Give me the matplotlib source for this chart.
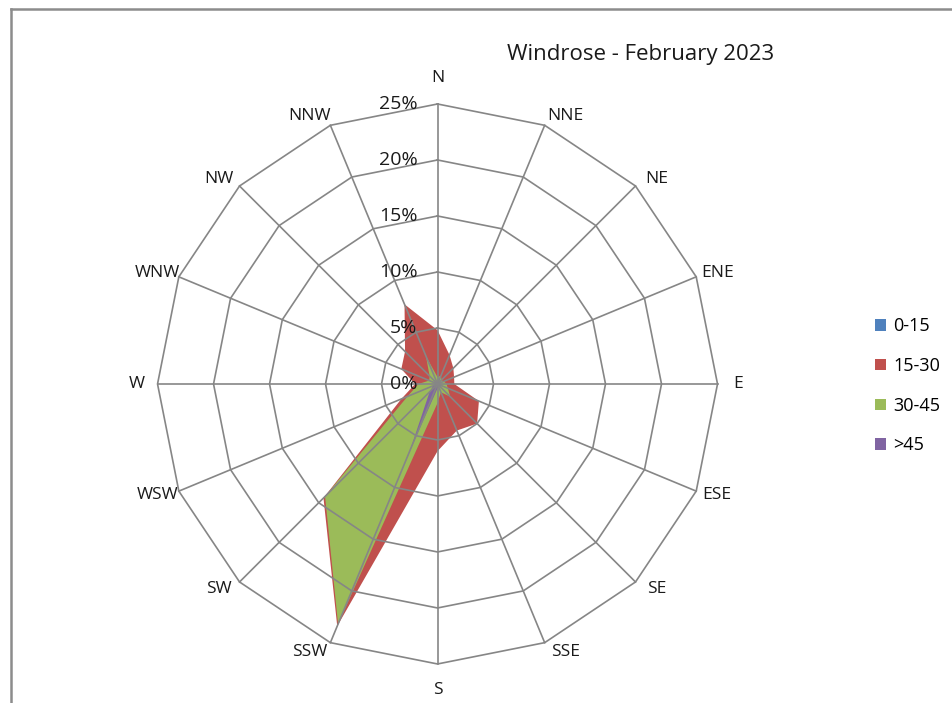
import numpy as np
import matplotlib.pyplot as plt
from matplotlib.patches import Patch
from matplotlib.lines import Line2D

plt.rcParams['font.family'] = ['Open Sans', 'DejaVu Sans']

directions = ['N', 'NNE', 'NE', 'ENE', 'E', 'ESE', 'SE', 'SSE',
              'S', 'SSW', 'SW', 'WSW', 'W', 'WNW', 'NW', 'NNW']
speed_bins = ['0-15', '15-30', '30-45', '>45']

# percentage of time per direction, one list per speed bin
pct_0_15 = [0.2, 0.1, 0.1, 0.1, 0.1, 0.2, 0.2, 0.2, 0.2, 0.3, 0.2, 0.1, 0.1, 0.1, 0.1, 0.2]
pct_15_30 = [4.8, 2.8, 2.0, 1.6, 1.5, 4.0, 5.0, 4.5, 6.0, 23.4, 14.4, 3.5, 2.0, 3.5, 4.1, 7.7]
pct_30_45 = [0.6, 0.8, 0.5, 0.6, 0.8, 1.0, 1.6, 0.8, 1.7, 23.2, 14.2, 2.9, 1.7, 0.8, 1.0, 2.7]
pct_45 = [0.2, 0.2, 0.2, 0.2, 0.2, 0.3, 0.3, 0.3, 0.4, 6.4, 1.0, 0.4, 0.2, 0.2, 0.2, 0.3]

ring_values = [0, 5, 10, 15, 20, 25]
ring_labels = ['0%', '5%', '10%', '15%', '20%', '25%']

colors = ['#4F81BD', '#C0504D', '#9BBB59', '#8064A2']
grid_color = '#868686'

fig = plt.figure(figsize=(9.53, 7.03), dpi=100)
ax = fig.add_axes([0.1653, 0.0555, 0.5876, 0.7966], projection='polar')
ax.set_theta_zero_location('N')
ax.set_theta_direction(-1)

theta = np.linspace(0, 2 * np.pi, len(directions), endpoint=False)
theta_c = np.append(theta, theta[0])

for i, series in enumerate([pct_0_15, pct_15_30, pct_30_45, pct_45]):
    vals = np.append(series, series[0])
    ax.fill(theta_c, vals, color=colors[i], linewidth=0, zorder=2 + i)

# polygon grid like Excel radar
rmax = ring_values[-1]
for r in ring_values[1:]:
    ax.plot(theta_c, [r] * len(theta_c), color=grid_color, lw=1.2, zorder=10, clip_on=False)
for a in theta:
    ax.plot([a, a], [0, rmax], color=grid_color, lw=1.2, zorder=10, clip_on=False)

ax.set_ylim(0, rmax)
ax.grid(False)
ax.spines['polar'].set_visible(False)
ax.set_yticks([])
ax.set_xticks([])

# category labels placed next to the outer vertices, Excel style
for a, lab in zip(theta, directions):
    s, c = np.sin(a), np.cos(a)
    if abs(s) < 1e-6:
        dx, dy = 0, 26 * np.sign(c)
    else:
        dx, dy = 21 * np.sign(s), 10 * c
    ax.annotate(lab, xy=(a, rmax), xytext=(dx, dy), textcoords='offset pixels',
                ha='center', va='center', fontsize=12.5, color='#1a1a1a',
                annotation_clip=False)

for r, lab in zip(ring_values, ring_labels):
    ax.annotate(lab, xy=(0, r), xytext=(-20, 0), textcoords='offset pixels',
                ha='right', va='center', fontsize=14, color='#1a1a1a', zorder=12)

fig.text(0.672, 0.923, 'Windrose - February 2023', ha='center', va='center',
         fontsize=16, color='#1a1a1a')

handles = [Patch(facecolor=c, edgecolor='none') for c in colors]
fig.legend(handles, speed_bins, loc='center left', bbox_to_anchor=(0.911, 0.451),
           frameon=False, fontsize=13, handlelength=0.6, handleheight=0.6,
           handletextpad=0.4, labelspacing=1.2, borderaxespad=0)

# chart border visible on the top and left
fig.add_artist(Line2D([0.0115, 1.0], [0.987, 0.987], color='#8c8c8c', lw=1.8))
fig.add_artist(Line2D([0.0115, 0.0115], [0.0, 0.987], color='#8c8c8c', lw=1.8))

fig.savefig('out.png', dpi=100)
